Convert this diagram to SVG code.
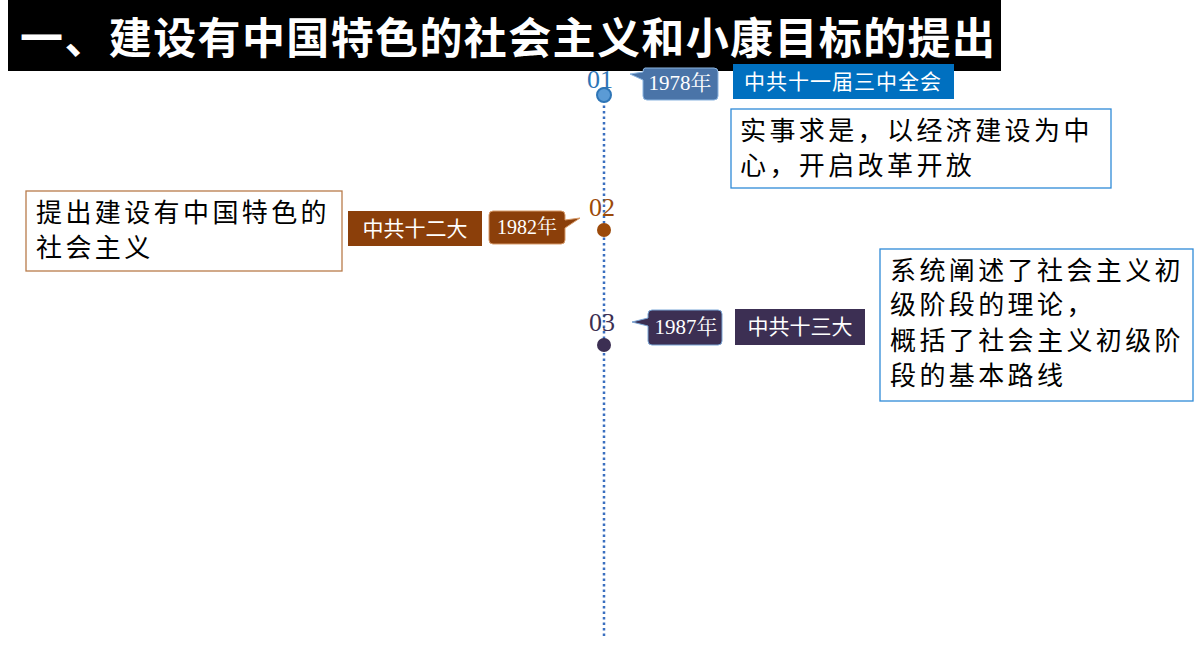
<svg xmlns="http://www.w3.org/2000/svg" width="1200" height="665" viewBox="0 0 1200 665">
<style>
.cjk{font-family:"Liberation Serif","Noto Serif CJK SC","Noto Sans CJK SC",serif}
.sans{font-family:"Noto Sans CJK SC",sans-serif}
.box{fill:#fff;stroke-width:1.3}
.num{font-family:"Liberation Serif","Noto Sans CJK SC",serif;font-size:26px}
.body{font-family:"Noto Sans CJK SC",sans-serif;font-size:26px;letter-spacing:3.4px}
</style>
<rect x="0" y="0" width="1200" height="665" fill="#fff"/>
<g id="title"><rect x="8" y="0" width="993" height="71" fill="#000"/>
<text x="20" y="54" class="sans" font-size="43" font-weight="bold" fill="#fff" textLength="975">一、建设有中国特色的社会主义和小康目标的提出</text></g>
<g id="connectors"><line x1="604" y1="100" x2="604" y2="636" stroke="#3a6fc0" stroke-width="2.5" stroke-dasharray="2.5,3"/></g>
<g id="n01">
<text x="600" y="88" class="num" fill="#2e75b6" text-anchor="middle">01</text>
<circle cx="604" cy="95" r="7" fill="#5b9bd5" stroke="#2e75b6" stroke-width="2"/>
<path d="M645 68 H714 Q718 68 718 72 V96 Q718 100 714 100 H647 Q643 100 643 96 V80 L630 74 L643 72 Q643 68 645 68Z" fill="#4a74a8" stroke="#8ab4e0"/>
<text x="680" y="90" class="cjk" font-size="21" fill="#fff" text-anchor="middle">1978年</text>
<rect x="733" y="64" width="221" height="35" fill="#0070c0"/>
<text x="843" y="89" class="sans" font-size="21" fill="#fff" text-anchor="middle" letter-spacing="1">中共十一届三中全会</text>
<rect x="731" y="109" width="380" height="79" class="box" stroke="#2e8ad8"/>
<text class="body" fill="#000"><tspan x="740" y="140">实事求是，以经济建设为中</tspan><tspan x="740" y="175">心，开启改革开放</tspan></text>
</g>
<g id="n02">
<text x="602" y="216" class="num" fill="#9c4a0a" text-anchor="middle">02</text>
<circle cx="604" cy="230" r="7" fill="#9c4a0a"/>
<path d="M493 211 H561 Q565 211 565 215 V220 L580 218 L565 228 V240 Q565 244 561 244 H493 Q489 244 489 240 V215 Q489 211 493 211Z" fill="#8b3f0a" stroke="#d79b6a"/>
<text x="527" y="234" class="cjk" font-size="20" fill="#fff" text-anchor="middle">1982年</text>
<rect x="348" y="211" width="134" height="35" fill="#8b3f0a"/>
<text x="415" y="236" class="sans" font-size="21" fill="#fff" text-anchor="middle">中共十二大</text>
<rect x="26" y="191" width="316" height="80" class="box" stroke="#b87b4b"/>
<text class="body" fill="#000"><tspan x="36" y="222">提出建设有中国特色的</tspan><tspan x="36" y="257">社会主义</tspan></text>
</g>
<g id="n03">
<text x="602" y="331" class="num" fill="#3c2f53" text-anchor="middle">03</text>
<circle cx="604" cy="345" r="7" fill="#3c2f53"/>
<path d="M652 310 H718 Q722 310 722 314 V341 Q722 345 718 345 H652 Q648 345 648 341 V326 L632 322 L648 318 V314 Q648 310 652 310Z" fill="#3c2f53" stroke="#7aa6d6"/>
<text x="686" y="334" class="cjk" font-size="21" fill="#fff" text-anchor="middle">1987年</text>
<rect x="735" y="309" width="130" height="36" fill="#3c2f53"/>
<text x="800" y="334" class="sans" font-size="21" fill="#fff" text-anchor="middle">中共十三大</text>
<rect x="880" y="249" width="313" height="152" class="box" stroke="#2e8ad8"/>
<text class="body" fill="#000"><tspan x="890" y="280">系统阐述了社会主义初</tspan><tspan x="890" y="314">级阶段的理论，</tspan><tspan x="890" y="350">概括了社会主义初级阶</tspan><tspan x="890" y="385">段的基本路线</tspan></text>
</g>
</svg>
